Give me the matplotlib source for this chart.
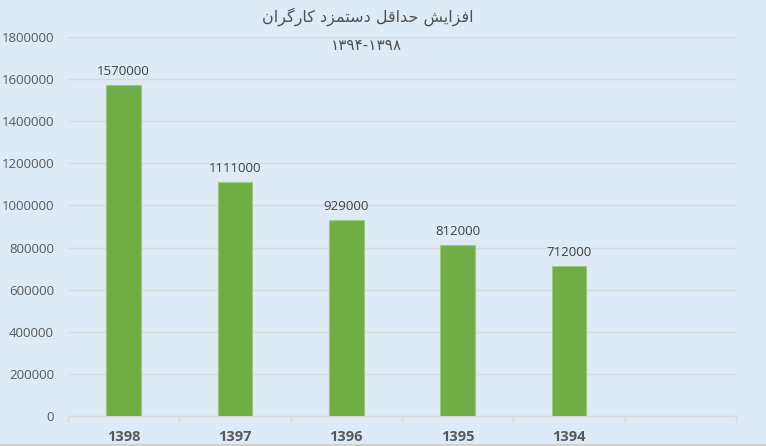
import matplotlib
matplotlib.use('Agg')
import matplotlib.pyplot as plt
import numpy as np

years = ['1398', '1397', '1396', '1395', '1394']
wages = [1570000, 1111000, 929000, 812000, 712000]
n_slots = 6  # excel left an empty category on the right
title_fa = 'افزایش حداقل دستمزد کارگران'
subtitle_fa = '۱۳۹۴-۱۳۹۸'

# matplotlib has no arabic shaping, so pick presentation forms by hand
FORMS = {
    'ا': ('\uFE8D', '\uFE8E', None, None),
    'د': ('\uFEA9', '\uFEAA', None, None),
    'ر': ('\uFEAD', '\uFEAE', None, None),
    'ز': ('\uFEAF', '\uFEB0', None, None),
    'ف': ('\uFED1', '\uFED2', '\uFED3', '\uFED4'),
    'ی': ('\uFBFC', '\uFBFD', '\uFBFE', '\uFBFF'),
    'ش': ('\uFEB5', '\uFEB6', '\uFEB7', '\uFEB8'),
    'ح': ('\uFEA1', '\uFEA2', '\uFEA3', '\uFEA4'),
    'ق': ('\uFED5', '\uFED6', '\uFED7', '\uFED8'),
    'ل': ('\uFEDD', '\uFEDE', '\uFEDF', '\uFEE0'),
    'س': ('\uFEB1', '\uFEB2', '\uFEB3', '\uFEB4'),
    'ت': ('\uFE95', '\uFE96', '\uFE97', '\uFE98'),
    'م': ('\uFEE1', '\uFEE2', '\uFEE3', '\uFEE4'),
    'ک': ('\uFB8E', '\uFB8F', '\uFB90', '\uFB91'),
    'گ': ('\uFB92', '\uFB93', '\uFB94', '\uFB95'),
    'ن': ('\uFEE5', '\uFEE6', '\uFEE7', '\uFEE8'),
}


def shape(text):
    out = []
    for i, c in enumerate(text):
        if c not in FORMS:
            out.append(c)
            continue
        iso, fin, ini, med = FORMS[c]
        prev = text[i - 1] if i > 0 else ''
        nxt = text[i + 1] if i + 1 < len(text) else ''
        join_prev = prev in FORMS and FORMS[prev][2] is not None
        join_next = nxt in FORMS and ini is not None
        if join_prev and join_next:
            out.append(med)
        elif join_prev:
            out.append(fin)
        elif join_next:
            out.append(ini)
        else:
            out.append(iso)
    return ''.join(reversed(out))


bg = '#DEEAF6'
grey = '#595959'
plt.rcParams['font.family'] = ['Open Sans', 'DejaVu Sans']

fig = plt.figure(figsize=(7.66, 4.46), dpi=100, facecolor=bg)
ax = fig.add_axes([68 / 766, 30 / 446, 668 / 766, 379 / 446])
ax.set_facecolor(bg)

x = np.arange(len(years))
bars = ax.bar(x, wages, width=0.31, color='#70AD47', edgecolor='#9BCB7A', linewidth=0.8, zorder=3)
for b, v in zip(bars, wages):
    ax.annotate(str(v), (b.get_x() + b.get_width() / 2, v), xytext=(0, 5), textcoords='offset points',
                ha='center', va='bottom', fontsize=9.5, color='#404040')

ax.set_xlim(-0.5, n_slots - 0.5)
ax.set_ylim(0, 1800000)
ax.set_yticks(np.arange(0, 1800001, 200000))
ax.set_yticklabels([str(v) for v in range(0, 1800001, 200000)])
ax.set_xticks(x)
ax.set_xticklabels(years, fontweight='bold')
ax.set_xticks(np.arange(-0.5, n_slots, 1), minor=True)
ax.grid(axis='y', color='#D9D9D9', linewidth=1, zorder=0)
for s in ['left', 'right', 'top']:
    ax.spines[s].set_visible(False)
ax.spines['bottom'].set_color('#D9D9D9')
ax.tick_params(axis='y', length=0, pad=10, labelsize=9.5, labelcolor=grey)
ax.tick_params(axis='x', which='major', length=0, pad=10, labelsize=10.5, labelcolor=grey)
ax.tick_params(axis='x', which='minor', length=4, color='#D9D9D9', width=1)

fig.text(368 / 766, 1 - 17 / 446, shape(title_fa), ha='center', va='center', fontsize=11.5,
         color='#505050', family=['DejaVu Sans'])
fig.text(366 / 766, 1 - 45 / 446, subtitle_fa, ha='center', va='center', fontsize=11,
         color='#505050', family=['DejaVu Sans'])
fig.add_artist(plt.Line2D([0, 1], [1 / 446, 1 / 446], color='#D0D0D0', linewidth=1.5,
                          transform=fig.transFigure))

fig.savefig('out.png', dpi=100, facecolor=bg)
